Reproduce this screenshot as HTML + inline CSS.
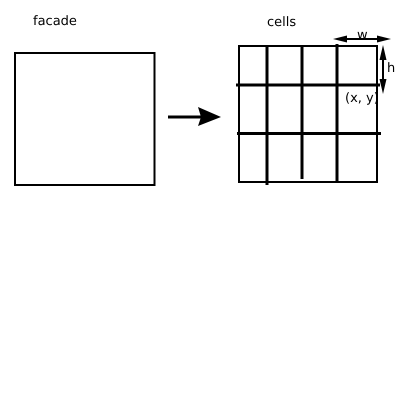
<!DOCTYPE html>
<html>
<head>
<meta charset="utf-8">
<style>
html,body{margin:0;padding:0;background:#fff;width:400px;height:400px;overflow:hidden}
svg{display:block}
text{font-family:"DejaVu Sans","Liberation Sans",sans-serif;font-size:13px;fill:#000;text-rendering:geometricPrecision}
</style>
</head>
<body>
<svg width="400" height="400" viewBox="0 0 400 400">
<rect width="400" height="400" fill="#fff"/>
<text x="33" y="25">facade</text>
<text x="267" y="26">cells</text>
<rect x="15" y="53" width="139.5" height="132" fill="none" stroke="#000" stroke-width="2"/>
<g>
<line x1="168" y1="117" x2="202" y2="117" stroke="#000" stroke-width="3"/>
<polygon points="198,107 221,117 198,126 201,117" fill="#000"/>
</g>
<g stroke="#000" fill="none">
<rect x="239" y="46" width="138" height="136" stroke-width="2"/>
<line x1="267" y1="45" x2="267" y2="185" stroke-width="3"/>
<line x1="302" y1="45" x2="302" y2="179" stroke-width="3"/>
<line x1="337" y1="44" x2="337" y2="182" stroke-width="3"/>
<line x1="236" y1="85" x2="380" y2="85" stroke-width="3"/>
<line x1="237" y1="133.5" x2="381" y2="133.5" stroke-width="3"/>
</g>
<g>
<line x1="340" y1="39" x2="385" y2="39" stroke="#000" stroke-width="2"/>
<polygon points="333,39 347,35.5 347,42.5" fill="#000"/>
<polygon points="391,39 377,35.5 377,42.5" fill="#000"/>
</g>
<g>
<line x1="383" y1="50" x2="383" y2="88" stroke="#000" stroke-width="2"/>
<polygon points="383,45 379.5,60 386.5,60" fill="#000"/>
<polygon points="383,94 379.5,79 386.5,79" fill="#000"/>
</g>
<text x="357" y="39">w</text>
<text x="387" y="72">h</text>
<text x="345" y="102">(x, y)</text>
</svg>
</body>
</html>
